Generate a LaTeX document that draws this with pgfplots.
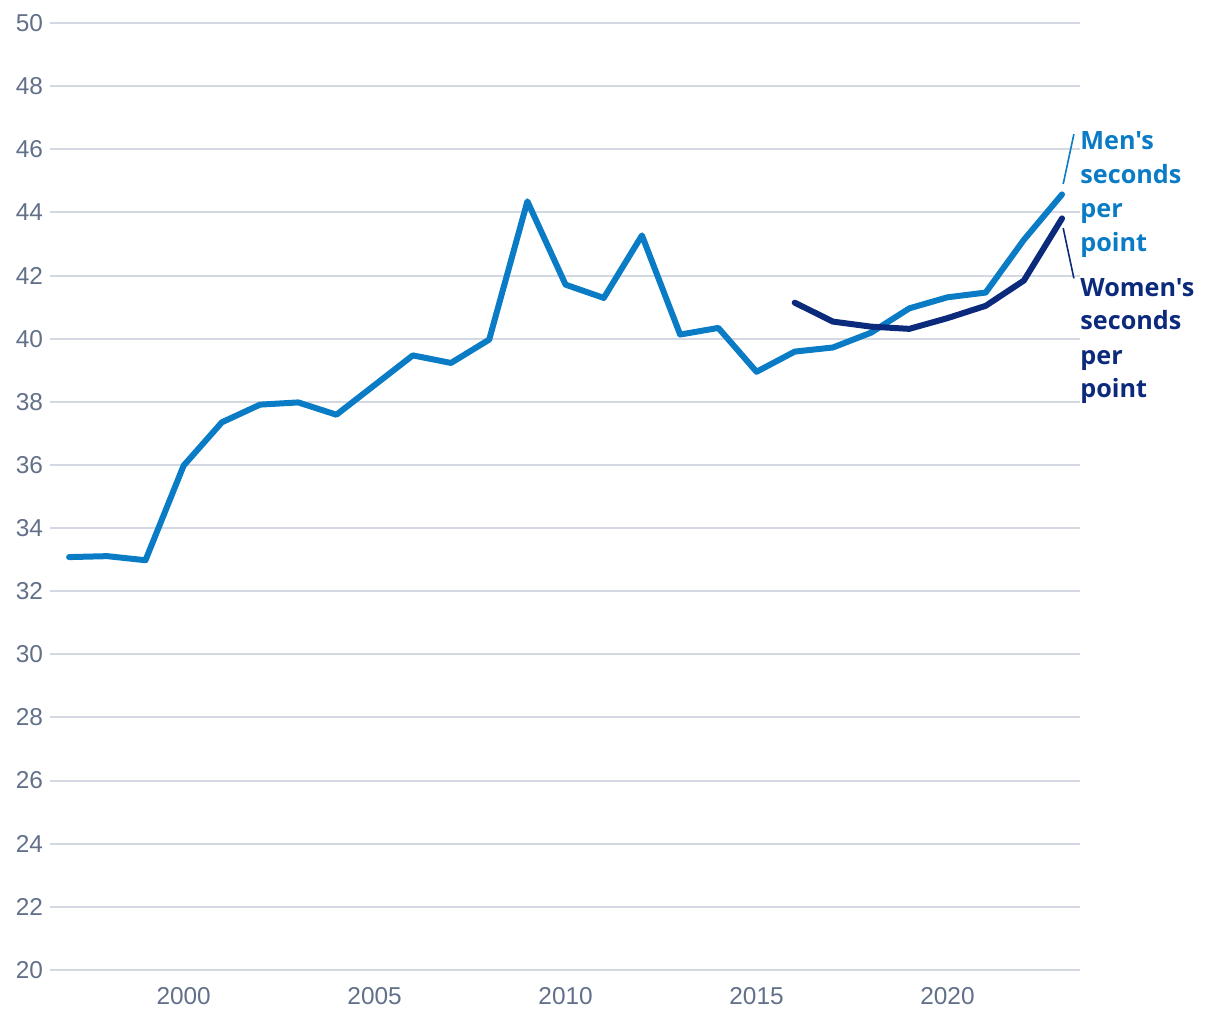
\documentclass[border=0pt]{standalone}
\usepackage{pgfplots}
\pgfplotsset{compat=1.18}
\usepackage{fontspec}
\setmainfont{Liberation Sans}
\newfontfamily\labfont{Open Sans}
\definecolor{menc}{HTML}{0A7CC6}
\definecolor{womc}{HTML}{0B2A7C}
\definecolor{gridc}{HTML}{D3D8E2}
\definecolor{tickc}{HTML}{627089}
\begin{document}
\begin{tikzpicture}
\useasboundingbox (-25pt,-25pt) rectangle (585pt,485pt);
\begin{axis}[
  at={(0,0)}, anchor=south west,
  scale only axis, width=515pt, height=473.5pt,
  xmin=1996.5, xmax=2023.47, ymin=20, ymax=50,
  ytick={20,22,...,50}, xtick={2000,2005,2010,2015,2020},
  xticklabel style={/pgf/number format/1000 sep={}},
  /pgf/number format/assume math mode=true,
  ticklabel style={font=\fontsize{12.2}{14}\selectfont, text=tickc},
  yticklabel style={xshift=0pt},
  xticklabel style={yshift=-5pt},
  axis line style={draw=none}, major tick length=0pt,
  ymajorgrids, grid style={gridc, line width=1pt},
  clip=false,
]
\addplot[menc, line width=3pt, line join=round, line cap=round] coordinates {
(1997,33.08)(1998,33.11)(1999,32.98)(2000,35.98)(2001,37.35)(2002,37.91)(2003,37.98)(2004,37.59)(2005,38.53)(2006,39.47)(2007,39.23)(2008,39.97)(2009,44.35)(2010,41.71)(2011,41.29)(2012,43.27)(2013,40.13)(2014,40.34)(2015,38.95)(2016,39.59)(2017,39.72)(2018,40.19)(2019,40.96)(2020,41.31)(2021,41.46)(2022,43.13)(2023,44.57)
};
\addplot[womc, line width=3pt, line join=round, line cap=round] coordinates {
(2016,41.14)(2017,40.54)(2018,40.38)(2019,40.31)(2020,40.65)(2021,41.04)(2022,41.84)(2023,43.81)
};
\draw[menc, line width=0.8pt] (axis cs:2023.03,44.90) -- (axis cs:2023.31,46.48);
\draw[womc, line width=0.8pt] (axis cs:2023.03,43.50) -- (axis cs:2023.31,41.91);
\node[anchor=base west, inner sep=0pt, align=left, text=menc, font=\labfont\bfseries\fontsize{12.6}{17}\selectfont] at (axis cs:2023.47,42.77) {Men's\\seconds\\per\\point};
\node[anchor=base west, inner sep=0pt, align=left, text=womc, font=\labfont\bfseries\fontsize{12.6}{17}\selectfont] at (axis cs:2023.47,38.12) {Women's\\seconds\\per\\point};
\end{axis}
\end{tikzpicture}
\end{document}
